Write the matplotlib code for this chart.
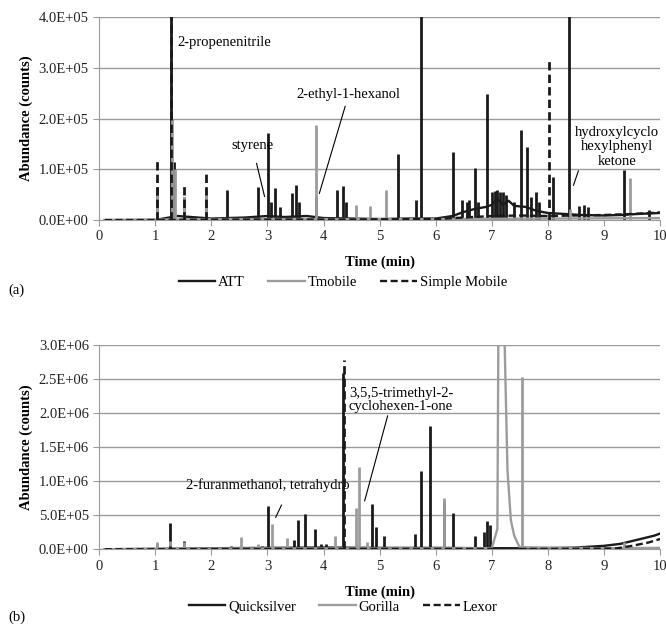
import numpy as np
import matplotlib.pyplot as plt

plt.rcParams['font.family'] = ['Liberation Serif', 'DejaVu Serif']
plt.rcParams['font.size'] = 10.5

# ---- (a) 基线 (time, counts) 与峰 ----
att_base_t = [0.1, 1.0, 1.4, 2.0, 2.6, 3.0, 3.3, 3.7, 4.0, 4.5, 5.0, 5.5, 6.0, 6.3, 6.5, 6.7,
              6.9, 7.0, 7.1, 7.2, 7.3, 7.4, 7.6, 7.8, 8.0, 8.3, 8.6, 9.0, 9.3, 9.6, 10.0]
att_base_y = [0, 300, 8000, 3000, 5000, 8000, 6000, 8000, 4000, 3000, 2000, 3000, 3000, 8000,
              16000, 22000, 26000, 30000, 42000, 30000, 38000, 28000, 26000, 18000, 14000,
              12000, 10000, 9000, 10000, 12000, 14000]
att_pk_t = [1.03, 1.28, 1.33, 1.52, 1.91, 2.28, 2.83, 3.01, 3.07, 3.13, 3.22, 3.44, 3.51,
            3.56, 3.86, 4.24, 4.34, 4.40, 5.33, 5.64, 5.74, 6.30, 6.47, 6.55, 6.60, 6.70,
            6.75, 6.92, 7.00, 7.05, 7.10, 7.15, 7.20, 7.25, 7.40, 7.52, 7.62, 7.70, 7.79,
            7.85, 8.10, 8.38, 8.55, 8.64, 8.72, 9.36, 9.80]
att_pk_y = [66000, 600000, 115000, 45000, 60000, 59000, 66000, 172000, 35000, 64000, 25000,
            54000, 69000, 35000, 45000, 59000, 68000, 35000, 130000, 39000, 600000, 135000,
            40000, 35000, 40000, 102000, 35000, 248000, 55000, 58000, 60000, 55000, 55000,
            50000, 35000, 177000, 144000, 45000, 55000, 35000, 85000, 600000, 28000, 30000,
            25000, 99000, 20000]

tmo_base_t = [0.1, 1.0, 2.0, 4.0, 6.0, 8.0, 10.0]
tmo_base_y = [0, 1000, 2000, 2000, 2000, 3000, 4000]
tmo_pk_t = [1.03, 1.29, 1.35, 1.52, 1.91, 3.86, 4.57, 4.82, 5.12, 8.40, 9.46]
tmo_pk_y = [50000, 200000, 100000, 45000, 62000, 187000, 30000, 27000, 59000, 22000, 82000]

sm_base_t = [0.1, 1.0, 2.0, 4.0, 6.0, 6.5, 7.0, 7.5, 8.0, 8.5, 9.0, 9.5, 10.0]
sm_base_y = [0, 0, 1000, 1000, 2000, 5000, 8000, 9000, 8000, 9000, 10000, 12000, 15000]
sm_pk_t = [1.03, 1.28, 1.52, 1.91, 8.02]
sm_pk_y = [118000, 600000, 69000, 97000, 319000]

# ---- (b) ----
qs_base_t = [0.1, 1.0, 2.0, 3.0, 4.0, 5.0, 6.0, 7.0, 8.0, 8.5, 9.0, 9.3, 9.5, 9.7, 9.9, 10.0]
qs_base_y = [0, 5000, 15000, 20000, 25000, 20000, 20000, 15000, 15000, 25000, 50000, 80000,
             120000, 160000, 200000, 230000]
qs_pk_t = [1.03, 1.27, 1.52, 2.35, 2.45, 2.90, 3.01, 3.47, 3.54, 3.67, 3.84, 3.95, 4.05,
           4.35, 4.87, 4.94, 5.07, 5.63, 5.74, 5.89, 6.15, 6.30, 6.70, 6.86, 6.92, 6.96]
qs_pk_y = [80000, 380000, 120000, 50000, 40000, 50000, 640000, 140000, 430000, 520000,
           290000, 80000, 80000, 2590000, 660000, 320000, 200000, 230000, 1150000, 1810000,
           700000, 530000, 200000, 250000, 420000, 350000]

gor_base_t = [0.1, 1.0, 7.0, 7.10, 7.12, 7.21, 7.23, 7.28, 7.34, 7.40, 7.46, 7.50, 9.0, 10.0]
gor_base_y = [0, 10000, 15000, 300000, 3500000, 3500000, 3000000, 1160000, 430000, 200000,
              90000, 30000, 15000, 20000]
gor_pk_t = [1.03, 1.27, 1.52, 2.52, 2.84, 3.08, 3.34, 4.21, 4.58, 4.63, 4.78, 6.15, 7.54, 9.36]
gor_pk_y = [100000, 120000, 100000, 180000, 80000, 370000, 160000, 190000, 600000, 1200000,
            100000, 750000, 2530000, 100000]

lx_base_t = [0.1, 1.0, 4.0, 8.0, 9.2, 9.5, 9.8, 10.0]
lx_base_y = [0, 0, 5000, 5000, 10000, 50000, 100000, 150000]
lx_pk_t = [1.27, 4.36]
lx_pk_y = [50000, 2780000]

dash = (0, (3, 1.5))
dark = '#1a1a1a'
grey = '#9c9c9c'
axcol = '#9a9a9a'


def draw_series(ax, bt, by, pt, py, color, ls, z, label):
    ax.plot(bt, by, color=color, ls=ls, lw=1.7, zorder=z, label=label)
    ax.vlines(pt, 0, py, colors=color, linestyles=ls, lw=2.0, zorder=z)


def style_axes(ax, ymax, ystep):
    ax.set_xlim(0, 10)
    ax.set_ylim(0, ymax)
    ax.set_xticks(np.arange(0, 11, 1))
    ax.set_yticks(np.arange(0, ymax + ystep / 2, ystep))
    ax.yaxis.set_major_formatter(plt.FuncFormatter(lambda v, p: '%.1E' % v))
    ax.grid(axis='y', color=axcol, lw=1)
    ax.set_axisbelow(True)
    for s in ['top', 'right']:
        ax.spines[s].set_visible(False)
    for s in ['left', 'bottom']:
        ax.spines[s].set_color(axcol)
    ax.tick_params(axis='both', colors=axcol, length=4, labelcolor='#222222')
    ax.set_xlabel('Time (min)', fontweight='bold', labelpad=9)
    ax.set_ylabel('Abundance (counts)', fontweight='bold', labelpad=4)


fig = plt.figure(figsize=(6.66, 6.27), dpi=100)
ax1 = fig.add_axes([0.149, 0.649, 0.842, 0.324])
ax2 = fig.add_axes([0.149, 0.124, 0.842, 0.326])

draw_series(ax1, att_base_t, att_base_y, att_pk_t, att_pk_y, dark, '-', 2, 'ATT')
draw_series(ax1, tmo_base_t, tmo_base_y, tmo_pk_t, tmo_pk_y, grey, '-', 3, 'Tmobile')
draw_series(ax1, sm_base_t, sm_base_y, sm_pk_t, sm_pk_y, dark, dash, 4, 'Simple Mobile')
style_axes(ax1, 400000, 100000)

draw_series(ax2, qs_base_t, qs_base_y, qs_pk_t, qs_pk_y, dark, '-', 2, 'Quicksilver')
draw_series(ax2, gor_base_t, gor_base_y, gor_pk_t, gor_pk_y, grey, '-', 3, 'Gorilla')
draw_series(ax2, lx_base_t, lx_base_y, lx_pk_t, lx_pk_y, dark, dash, 4, 'Lexor')
style_axes(ax2, 3000000, 500000)

# 标注
ax1.text(1.40, 3.49e5, '2-propenenitrile', va='center', ha='left')
ax1.annotate('styrene', xy=(2.96, 0.41e5), xytext=(2.73, 1.46e5), ha='center', va='center',
             arrowprops=dict(arrowstyle='-', color='black', lw=0.8, shrinkA=6))
ax1.annotate('2-ethyl-1-hexanol', xy=(3.91, 0.47e5), xytext=(4.45, 2.35e5),
             ha='center', va='bottom',
             arrowprops=dict(arrowstyle='-', color='black', lw=0.8, shrinkA=2))
ax1.annotate('hydroxylcyclo\nhexylphenyl\nketone', xy=(8.44, 0.63e5), xytext=(9.23, 1.44e5),
             ha='center', va='center', linespacing=1.15,
             arrowprops=dict(arrowstyle='-', color='black', lw=0.8, shrinkA=0,
                             relpos=(0.08, 0.15)))

ax2.annotate('2-furanmethanol, tetrahydro', xy=(3.125, 0.43e6), xytext=(1.55, 0.94e6),
             ha='left', va='center',
             arrowprops=dict(arrowstyle='-', color='black', lw=0.8, shrinkA=8,
                             relpos=(0.62, 0.0)))
ax2.annotate('3,5,5-trimethyl-2-\ncyclohexen-1-one', xy=(4.72, 0.67e6), xytext=(4.45, 2.0e6),
             ha='left', va='bottom', linespacing=1.0,
             arrowprops=dict(arrowstyle='-', color='black', lw=0.8, shrinkA=0,
                             relpos=(0.38, 0.0)))

for ax, y in [(ax1, 0.549), (ax2, 0.032)]:
    ax.legend(loc='center', bbox_to_anchor=(0.515, y), bbox_transform=fig.transFigure,
              ncol=3, frameon=False, handlelength=2.5, columnspacing=1.6, handletextpad=0.2)

fig.text(0.012, 0.537, '(a)', ha='left', va='center')
fig.text(0.012, 0.016, '(b)', ha='left', va='center')

fig.savefig('out.png', dpi=100)
